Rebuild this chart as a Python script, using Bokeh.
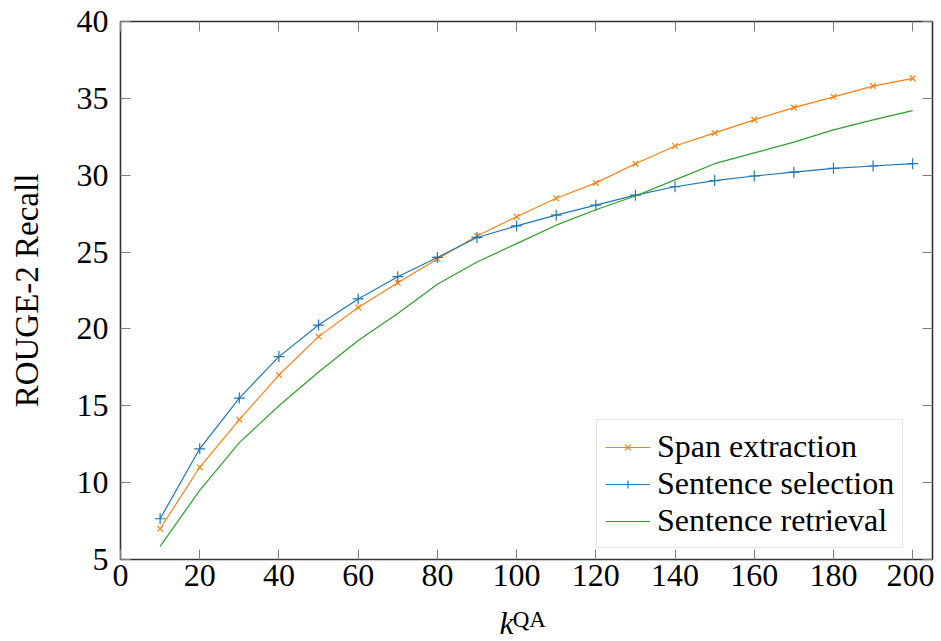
from bokeh.plotting import figure
from bokeh.models import (LinearAxis, Legend, LegendItem, FixedTicker, Range1d)
from bokeh.embed import file_html
from bokeh.resources import INLINE

# ---- data ----
k_qa = [10, 20, 30, 40, 50, 60, 70, 80, 90, 100,
        110, 120, 130, 140, 150, 160, 170, 180, 190, 200]
span_extraction = [7.0, 11.0, 14.1, 17.0, 19.5, 21.4, 23.0, 24.55, 26.05, 27.3,
                   28.5, 29.5, 30.75, 31.9, 32.75, 33.6, 34.4, 35.1, 35.8, 36.3]
sentence_selection = [7.65, 12.2, 15.5, 18.2, 20.25, 21.95, 23.4, 24.65, 25.95, 26.7,
                      27.4, 28.05, 28.7, 29.25, 29.65, 29.95, 30.2, 30.45, 30.6, 30.75]
sentence_retrieval = [5.85, 9.5, 12.6, 15.0, 17.2, 19.25, 21.0, 22.9, 24.35, 25.55,
                      26.75, 27.75, 28.65, 29.7, 30.75, 31.45, 32.15, 32.95, 33.6, 34.2]
series_names = ["Span extraction", "Sentence selection", "Sentence retrieval"]
x_ticks = [0, 20, 40, 60, 80, 100, 120, 140, 160, 180, 200]
y_ticks = [5, 10, 15, 20, 25, 30, 35, 40]
x_label_main = "k"
x_label_sup = "QA"
y_label = "ROUGE-2 Recall"

FONT = "Liberation Serif"
FS = "32px"
ORANGE = "#ff7f0e"
BLUE = "#1f77b4"
GREEN = "#2ca02c"
NBSP = "\u00a0"

X0, X1 = 0, 205
Y0, Y1 = 5, 40
FW, FH = 812, 538
ML, MT, MB = 120, 21, 82

p = figure(frame_width=FW, frame_height=FH,
           x_range=Range1d(X0, X1), y_range=Range1d(Y0, Y1),
           output_backend="svg", toolbar_location=None,
           min_border_left=ML, min_border_right=2,
           min_border_top=MT, min_border_bottom=MB)
p.xgrid.visible = False
p.ygrid.visible = False
p.outline_line_color = "#333333"
p.outline_line_width = 1.6
p.background_fill_color = "white"
p.border_fill_color = "white"


def style_axis(ax, labels=True):
    ax.axis_line_color = None
    ax.major_tick_in = 10
    ax.major_tick_out = 0
    ax.minor_tick_line_color = None
    ax.major_tick_line_color = "#808080"
    ax.major_tick_line_width = 1
    ax.major_label_text_font = FONT
    ax.major_label_text_font_size = FS
    ax.major_label_text_color = "black"
    if not labels:
        ax.major_label_overrides = {t: "" for t in ax.ticker.ticks}
        ax.major_label_standoff = 0


xb = p.xaxis[0]
xb.ticker = FixedTicker(ticks=x_ticks)
style_axis(xb)
xb.major_label_standoff = 5
# main part of the x label: italic k (padded so it sits left of centre)
xb.axis_label = x_label_main + NBSP * 5
xb.axis_label_text_font = FONT
xb.axis_label_text_font_size = FS
xb.axis_label_text_font_style = "italic"
xb.axis_label_text_color = "black"
xb.axis_label_standoff = 16

yl = p.yaxis[0]
yl.ticker = FixedTicker(ticks=y_ticks)
style_axis(yl)
yl.major_label_standoff = 12
yl.axis_label = y_label
yl.axis_label_text_font = FONT
yl.axis_label_text_font_size = "33px"
yl.axis_label_text_font_style = "normal"
yl.axis_label_text_color = "black"
yl.axis_label_standoff = 29

xt = LinearAxis(ticker=FixedTicker(ticks=x_ticks))
style_axis(xt, labels=False)
p.add_layout(xt, "above")
yr = LinearAxis(ticker=FixedTicker(ticks=y_ticks))
style_axis(yr, labels=False)
p.add_layout(yr, "right")

# superscript part of the x label, on an extra (tick-less) axis pulled upward
xs = LinearAxis(ticker=FixedTicker(ticks=[]))
xs.axis_line_color = None
xs.major_tick_line_color = None
xs.minor_tick_line_color = None
xs.major_label_text_font_size = FS
xs.major_label_standoff = 0
xs.axis_label = NBSP + x_label_sup
xs.axis_label_text_font = FONT
xs.axis_label_text_font_size = "23px"
xs.axis_label_text_font_style = "normal"
xs.axis_label_text_color = "black"
xs.axis_label_standoff = -37
p.add_layout(xs, "below")

# ---- series ----
l1 = p.line(k_qa, span_extraction, line_color=ORANGE, line_width=1.2)
m1 = p.scatter(k_qa, span_extraction, marker="x", size=8, line_color=ORANGE, line_width=1.2)
l2 = p.line(k_qa, sentence_selection, line_color=BLUE, line_width=1.2)
m2 = p.scatter(k_qa, sentence_selection, marker="cross", size=11, line_color=BLUE, line_width=1.2)
l3 = p.line(k_qa, sentence_retrieval, line_color=GREEN, line_width=1.2)

legend = Legend(items=[LegendItem(label=series_names[0], renderers=[l1, m1]),
                       LegendItem(label=series_names[1], renderers=[l2, m2]),
                       LegendItem(label=series_names[2], renderers=[l3])],
                location=(476, 11))
legend.border_line_color = "#cccccc"
legend.border_line_width = 1
legend.background_fill_color = "white"
legend.background_fill_alpha = 1
legend.label_text_font = FONT
legend.label_text_font_size = FS
legend.label_text_color = "black"
legend.glyph_width = 45
legend.glyph_height = 20
legend.label_height = 20
legend.label_standoff = 7
legend.padding = 8
legend.spacing = 0
legend.margin = 0
p.add_layout(legend)

open("out.html", "w").write(file_html(p, INLINE))
